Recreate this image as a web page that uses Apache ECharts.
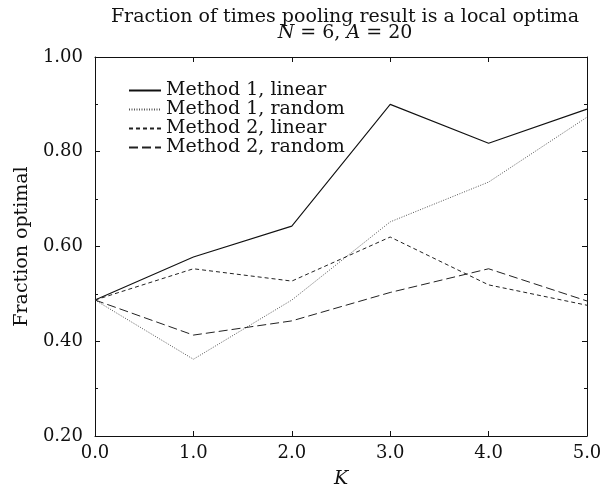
<!DOCTYPE html>
<html>
<head>
<meta charset="utf-8">
<script src="https://cdn.jsdelivr.net/npm/echarts@6/dist/echarts.min.js"></script>
<style>html,body{margin:0;padding:0;background:#fff;}#c{width:611px;height:496px;}</style>
</head>
<body>
<div id="c"></div>
<script>
const kValues = [0, 1, 2, 3, 4, 5];
const m1Linear = [0.487, 0.578, 0.643, 0.900, 0.818, 0.890];
const m1Random = [0.487, 0.362, 0.487, 0.652, 0.736, 0.873];
const m2Linear = [0.487, 0.553, 0.527, 0.620, 0.519, 0.476];
const m2Random = [0.487, 0.413, 0.443, 0.503, 0.553, 0.485];
const seriesNames = ['Method 1, linear', 'Method 1, random', 'Method 2, linear', 'Method 2, random'];
const xTickLabels = ['0.0', '1.0', '2.0', '3.0', '4.0', '5.0'];
const yTickLabels = ['0.20', '0.40', '0.60', '0.80', '1.00'];

const FONT = '"DejaVu Serif", "Liberation Serif", serif';
const pair = arr => kValues.map((k, i) => [k, arr[i]]);

const styles = [
  {type: 'solid', color: '#111', width: 1.1},
  {type: [1, 1.5], color: '#555', width: 1},
  {type: [4, 3], color: '#222', width: 1},
  {type: [9, 4], color: '#222', width: 1}
];
const datas = [m1Linear, m1Random, m2Linear, m2Random];

const chart = echarts.init(document.getElementById('c'), null, {renderer: 'canvas'});
chart.setOption({
  animation: false,
  backgroundColor: '#fff',
  title: {
    text: 'Fraction of times pooling result is a local optima\n{i|N} = 6, {i|A} = 20',
    top: 4,
    left: 340,
    textAlign: 'center',
    textStyle: {
      fontFamily: FONT, fontSize: 19, fontWeight: 'normal', color: '#111', lineHeight: 16,
      rich: {i: {fontFamily: FONT, fontSize: 19, fontStyle: 'italic', color: '#111', lineHeight: 16}}
    }
  },
  legend: {
    show: true,
    orient: 'vertical',
    left: 128,
    top: 81,
    itemWidth: 32,
    itemHeight: 12,
    itemGap: 0,
    padding: 0,
    data: seriesNames,
    itemStyle: {opacity: 0},
    textStyle: {fontFamily: FONT, fontSize: 19, color: '#111', lineHeight: 18.7, padding: 0}
  },
  grid: {left: 95, right: 24, top: 57, bottom: 60, containLabel: false},
  xAxis: [{
    type: 'value', min: 0, max: 5, interval: 1,
    name: 'K', nameLocation: 'middle', nameGap: 34,
    nameTextStyle: {fontFamily: FONT, fontSize: 19, fontStyle: 'italic', color: '#111'},
    axisLine: {onZero: false, lineStyle: {color: '#111', width: 1}},
    axisTick: {inside: true, length: 5, lineStyle: {color: '#111'}},
    axisLabel: {fontFamily: FONT, fontSize: 18, color: '#111', margin: 8, formatter: (v) => xTickLabels[Math.round(v)]},
    splitLine: {show: false}
  }, {
    type: 'value', min: 0, max: 5, interval: 1, position: 'top',
    axisLine: {show: true, onZero: false, lineStyle: {color: '#111', width: 1}},
    axisTick: {inside: true, length: 5, lineStyle: {color: '#111'}},
    axisLabel: {show: false}, splitLine: {show: false}
  }],
  yAxis: [{
    type: 'value', min: 0.2, max: 1.0, interval: 0.2,
    name: 'Fraction optimal', nameLocation: 'middle', nameGap: 58, nameRotate: 90,
    nameTextStyle: {fontFamily: FONT, fontSize: 19, color: '#111'},
    axisLine: {show: true, onZero: false, lineStyle: {color: '#111', width: 1}},
    axisTick: {inside: true, length: 5, lineStyle: {color: '#111'}},
    minorTick: {show: true, splitNumber: 2, length: 3, lineStyle: {color: '#111'}},
    axisLabel: {fontFamily: FONT, fontSize: 18, color: '#111', margin: 12, formatter: (v) => yTickLabels[Math.round((v - 0.2) / 0.2)]},
    splitLine: {show: false}
  }, {
    type: 'value', min: 0.2, max: 1.0, interval: 0.2, position: 'right',
    axisLine: {show: true, onZero: false, lineStyle: {color: '#111', width: 1}},
    axisTick: {inside: true, length: 5, lineStyle: {color: '#111'}},
    minorTick: {show: true, splitNumber: 2, length: 3, lineStyle: {color: '#111'}},
    axisLabel: {show: false}, splitLine: {show: false}
  }],
  series: datas.map((d, i) => ({
    name: seriesNames[i],
    type: 'line',
    data: pair(d),
    symbol: 'none',
    color: styles[i].color,
    lineStyle: {type: styles[i].type, color: styles[i].color, width: styles[i].width},
    emphasis: {disabled: true}
  }))
});
</script>
</body>
</html>
